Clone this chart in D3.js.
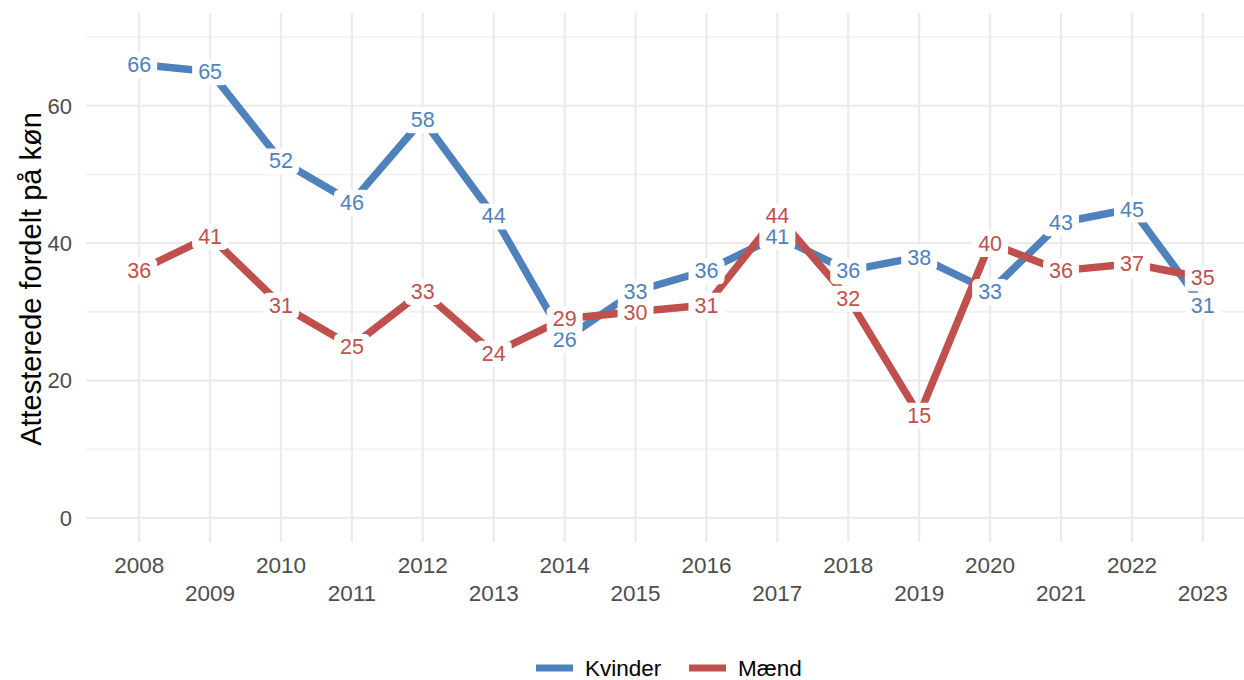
<!DOCTYPE html>
<html>
<head>
<meta charset="utf-8">
<script src="https://cdn.jsdelivr.net/npm/d3@7"></script>
<style>
  body { margin: 0; background: #fff; }
  svg { display: block; font-family: "Liberation Sans", Arial, Helvetica, sans-serif; }
</style>
</head>
<body>
<svg id="chart" width="1244" height="680"></svg>
<script>
// data
var aar = [2008, 2009, 2010, 2011, 2012, 2013, 2014, 2015, 2016, 2017, 2018, 2019, 2020, 2021, 2022, 2023];
var kvinder = [66, 65, 52, 46, 58, 44, 26, 33, 36, 41, 36, 38, 33, 43, 45, 31];
var maend = [36, 41, 31, 25, 33, 24, 29, 30, 31, 44, 32, 15, 40, 36, 37, 35];
var serieNavne = ["Kvinder", "Mænd"];
var serieFarver = ["#4f81bd", "#c0504d"];
var yTicks = [0, 20, 40, 60];
var yMinorTicks = [10, 30, 50, 70];

var svg = d3.select("#chart");

var x = d3.scaleLinear().domain([2008 - 0.75, 2023 + 0.75]).range([86, 1256]);
var y = d3.scaleLinear().domain([-3.5, 73.5]).range([542, 13]);

// gitterlinjer
var grid = svg.append("g");
grid.selectAll(".minor").data(yMinorTicks).enter().append("line")
    .attr("x1", 86).attr("x2", 1256)
    .attr("y1", function(d) { return y(d); }).attr("y2", function(d) { return y(d); })
    .attr("stroke", "#f0f0f0").attr("stroke-width", 1.6);
grid.selectAll(".major").data(yTicks).enter().append("line")
    .attr("x1", 86).attr("x2", 1256)
    .attr("y1", function(d) { return y(d); }).attr("y2", function(d) { return y(d); })
    .attr("stroke", "#ebebeb").attr("stroke-width", 2.2);
grid.selectAll(".vert").data(aar).enter().append("line")
    .attr("y1", 13).attr("y2", 542)
    .attr("x1", function(d) { return x(d); }).attr("x2", function(d) { return x(d); })
    .attr("stroke", "#ebebeb").attr("stroke-width", 2.2);

// y akse tekst
svg.append("g").selectAll("text").data(yTicks).enter().append("text")
    .attr("x", 72).attr("y", function(d) { return y(d); })
    .attr("dy", "0.36em")
    .attr("text-anchor", "end")
    .attr("font-size", 22)
    .attr("fill", "#4d4d4d")
    .text(function(d) { return d; });

// x akse tekst, skiftevis to rækker
svg.append("g").selectAll("text").data(aar).enter().append("text")
    .attr("x", function(d) { return x(d); })
    .attr("y", function(d, i) { return i % 2 == 0 ? 573 : 601; })
    .attr("text-anchor", "middle")
    .attr("font-size", 22.5)
    .attr("fill", "#4d4d4d")
    .text(function(d) { return d; });

// akse titel
svg.append("text")
    .attr("transform", "translate(41,279) rotate(-90)")
    .attr("text-anchor", "middle")
    .attr("font-size", 29)
    .attr("fill", "#000")
    .text("Attesterede fordelt på køn");

var serier = [kvinder, maend];

var linje = d3.line()
    .x(function(d, i) { return x(aar[i]); })
    .y(function(d) { return y(d); });

serier.forEach(function(vaerdier, s) {
    svg.append("path")
        .datum(vaerdier)
        .attr("d", linje)
        .attr("fill", "none")
        .attr("stroke", serieFarver[s])
        .attr("stroke-width", 7.5)
        .attr("stroke-linejoin", "round");
});

// labels med hvid baggrund
serier.forEach(function(vaerdier, s) {
    var g = svg.append("g");
    vaerdier.forEach(function(v, i) {
        var lg = g.append("g");
        var rect = lg.append("rect");
        var t = lg.append("text")
            .attr("x", x(aar[i])).attr("y", y(v))
            .attr("dy", "0.36em")
            .attr("text-anchor", "middle")
            .attr("font-size", 21.5)
            .attr("fill", serieFarver[s])
            .text(v);
        var bb = t.node().getBBox();
        rect.attr("x", bb.x - 6).attr("y", bb.y - 1)
            .attr("width", bb.width + 12).attr("height", bb.height + 2)
            .attr("rx", 5).attr("fill", "#fff");
    });
});

// legend
var legend = svg.append("g");
var legX = [536, 689];
serieNavne.forEach(function(navn, s) {
    legend.append("line")
        .attr("x1", legX[s]).attr("x2", legX[s] + 37)
        .attr("y1", 668).attr("y2", 668)
        .attr("stroke", serieFarver[s]).attr("stroke-width", 7);
    legend.append("text")
        .attr("x", legX[s] + 49).attr("y", 668)
        .attr("dy", "0.36em")
        .attr("font-size", 22.5)
        .attr("fill", "#000")
        .text(navn);
});
</script>
</body>
</html>
